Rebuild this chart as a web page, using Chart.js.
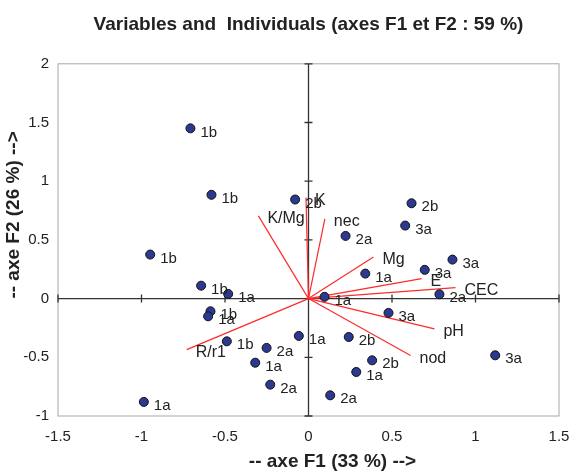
<!DOCTYPE html>
<html>
<head>
<meta charset="utf-8">
<title>Variables and Individuals</title>
<script src="https://cdn.jsdelivr.net/npm/chart.js@4/dist/chart.umd.min.js"></script>
<style>
  html, body { margin: 0; padding: 0; background: #fff; }
  canvas { display: block; }
</style>
</head>
<body>
<canvas id="chart" width="575" height="471"></canvas>
<script>
"use strict";

// PCA biplot: individuals (dots) and variables (red vectors) on F1/F2.

const OBS_LABELS = ["1b", "1b", "2b", "1b", "1b", "1a", "1b", "1a", "1b", "2a",
  "1a", "2a", "1a", "1a", "2b", "3a", "2a", "3a", "1a", "3a",
  "1a", "2a", "3a", "2b", "2b", "1a", "2a", "3a"];
const OBS_F1 = [-0.707, -0.581, -0.080, -0.948, -0.643, -0.481, -0.587, -0.601, -0.489, -0.251,
  -0.319, -0.229, -0.986, -0.058, 0.617, 0.579, 0.222, 0.862, 0.340, 0.696,
  0.096, 0.784, 0.479, 0.241, 0.381, 0.286, 0.130, 1.118];
const OBS_F2 = [1.450, 0.884, 0.844, 0.375, 0.110, 0.040, -0.108, -0.151, -0.364, -0.420,
  -0.546, -0.733, -0.880, -0.318, 0.812, 0.622, 0.534, 0.332, 0.213, 0.245,
  0.015, 0.037, -0.122, -0.327, -0.526, -0.625, -0.824, -0.483];

const VAR_NAMES = ["K/Mg", "K", "nec", "Mg", "E", "CEC", "pH", "nod", "R/r1"];
const VAR_F1 = [-0.300, -0.015, 0.098, 0.389, 0.677, 0.880, 0.754, 0.611, -0.729];
const VAR_F2 = [0.705, 0.860, 0.680, 0.355, 0.170, 0.094, -0.258, -0.484, -0.435];

const X_TICKS = [-1.5, -1, -0.5, 0, 0.5, 1, 1.5];
const Y_TICKS = [-1, -0.5, 0, 0.5, 1, 1.5, 2];

const TITLE = "Variables and  Individuals (axes F1 et F2 : 59 %)";
const X_TITLE = "-- axe F1 (33 %) -->";
const Y_TITLE = "-- axe F2 (26 %) -->";

const FONT = "'Liberation Sans', Arial, Helvetica, sans-serif";
const TEXT = "#222";
const RED = "#ff2a2a";

const $ = (id) => document.getElementById(id);

// Grey frame plus the black F1/F2 axes through the origin, with cross ticks.
const framePlugin = {
  id: "frame",
  beforeDatasetsDraw(chart) {
    const { ctx, chartArea: a, scales: { x, y } } = chart;
    ctx.save();
    ctx.strokeStyle = "#a8a8a8";
    ctx.lineWidth = 1;
    ctx.strokeRect(a.left, a.top, a.width, a.height);

    const x0 = x.getPixelForValue(0);
    const y0 = y.getPixelForValue(0);
    ctx.strokeStyle = "#333";
    ctx.lineWidth = 1.3;
    ctx.beginPath();
    ctx.moveTo(a.left, y0); ctx.lineTo(a.right, y0);
    ctx.moveTo(x0, a.top); ctx.lineTo(x0, a.bottom);
    X_TICKS.forEach((v) => {
      const px = x.getPixelForValue(v);
      ctx.moveTo(px, y0 - 4); ctx.lineTo(px, y0 + 4);
    });
    Y_TICKS.forEach((v) => {
      const py = y.getPixelForValue(v);
      ctx.moveTo(x0 - 4, py); ctx.lineTo(x0 + 4, py);
    });
    ctx.stroke();
    ctx.restore();
  },
};

// Text next to each dot and at the tip of each variable vector, plus the
// axis titles (which sit off-centre in the original, so they're drawn here).
const labelPlugin = {
  id: "labels",
  afterDatasetsDraw(chart) {
    const { ctx, chartArea: a } = chart;
    ctx.save();
    ctx.fillStyle = TEXT;
    ctx.textBaseline = "middle";
    ctx.textAlign = "left";

    ctx.font = "15px " + FONT;
    chart.getDatasetMeta(0).data.forEach((el, i) => {
      ctx.fillText(OBS_LABELS[i], el.x + 10, el.y + 4);
    });

    ctx.font = "16px " + FONT;
    VAR_NAMES.forEach((name, i) => {
      const tip = chart.getDatasetMeta(i + 1).data[1];
      ctx.fillText(name, tip.x + 9, tip.y + 3);
    });

    ctx.font = "bold 19px " + FONT;
    ctx.textAlign = "center";
    ctx.fillText(X_TITLE, (a.left + a.right) / 2 + 24, 462);
    ctx.translate(14, (a.top + a.bottom) / 2 - 25);
    ctx.rotate(-Math.PI / 2);
    ctx.fillText(Y_TITLE, 0, 0);
    ctx.restore();
  },
};

function buildDatasets() {
  const sets = [{
    label: "Individuals",
    data: OBS_F1.map((v, i) => ({ x: v, y: OBS_F2[i] })),
    pointRadius: 4.5,
    pointBackgroundColor: "#2b3990",
    pointBorderColor: "#111",
    pointBorderWidth: 1,
    showLine: false,
    order: 0,
  }];
  VAR_NAMES.forEach((name, i) => {
    sets.push({
      label: name,
      data: [{ x: 0, y: 0 }, { x: VAR_F1[i], y: VAR_F2[i] }],
      showLine: true,
      borderColor: RED,
      borderWidth: 1.2,
      pointRadius: 0,
      order: 1,
    });
  });
  return sets;
}

const tickFont = { family: FONT, size: 15 };

new Chart($("chart"), {
  type: "scatter",
  data: { datasets: buildDatasets() },
  plugins: [framePlugin, labelPlugin],
  options: {
    responsive: false,
    animation: false,
    layout: { padding: { left: 0, right: 16, top: 0, bottom: 0 } },
    plugins: {
      legend: { display: false },
      tooltip: { enabled: false },
      title: {
        display: true,
        text: TITLE,
        font: { family: FONT, size: 19, weight: "bold" },
        color: TEXT,
        fullSize: false,
        padding: { top: 13, bottom: 28 },
      },
    },
    scales: {
      x: {
        type: "linear",
        min: -1.5,
        max: 1.5,
        afterBuildTicks: (s) => { s.ticks = X_TICKS.map((v) => ({ value: v })); },
        afterFit: (s) => { s.height = 55; s.paddingLeft = 0; s.paddingRight = 0; },
        grid: { display: false, drawTicks: false },
        border: { display: false },
        ticks: { font: tickFont, color: TEXT, padding: 12, maxRotation: 0,
          callback: (v) => String(v) },
      },
      y: {
        type: "linear",
        min: -1,
        max: 2,
        afterBuildTicks: (s) => { s.ticks = Y_TICKS.map((v) => ({ value: v })); },
        afterFit: (s) => { s.width = 58; },
        grid: { display: false, drawTicks: false },
        border: { display: false },
        ticks: { font: tickFont, color: TEXT, padding: 9,
          callback: (v) => String(v) },
      },
    },
  },
});
</script>
</body>
</html>
